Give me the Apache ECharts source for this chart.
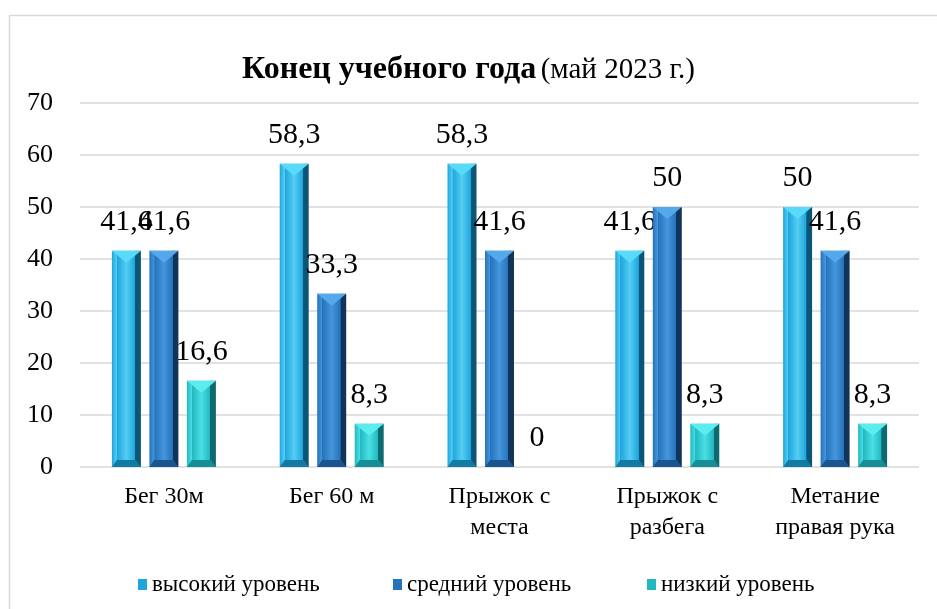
<!DOCTYPE html>
<html><head><meta charset="utf-8">
<script src="https://cdn.jsdelivr.net/npm/echarts@6/dist/echarts.min.js"></script>
<style>html,body{margin:0;padding:0;background:#fff}#c{width:937px;height:609px}</style>
</head><body><div id="c"></div>
<script>
var categories = ['Бег 30м', 'Бег 60 м', 'Прыжок с\nместа', 'Прыжок с\nразбега', 'Метание\nправая рука'];
var seriesNames = ['высокий уровень', 'средний уровень', 'низкий уровень'];
var highLevel = [41.6, 58.3, 58.3, 41.6, 50];
var midLevel = [41.6, 33.3, 41.6, 50, 41.6];
var lowLevel = [16.6, 8.3, 0, 8.3, 8.3];
var yTicks = {min: 0, max: 70, interval: 10};

var FONT = 'Liberation Serif';
var CFONT = 'serif';
var palettes = [
  {main: '#1ea5dd', light: '#55cdf3', dark: '#0b5676', top: '#58dbf9', bottom: '#137aa3'},
  {main: '#2672bb', light: '#4596dc', dark: '#11345a', top: '#55a8ea', bottom: '#1a5590'},
  {main: '#22b8c1', light: '#4adfe3', dark: '#0d6a70', top: '#5cecef', bottom: '#178e95'}
];

function makeRender(si) {
  var p = palettes[si];
  return function (params, api) {
    var cat = api.value(0), val = api.value(1);
    var base = api.coord([cat, 0]);
    var top = api.coord([cat, val]);
    var bw = 29, gap = 8.5;
    var groupW = 3 * bw + 2 * gap;
    var x = base[0] - groupW / 2 + si * (bw + gap);
    var h = base[1] - top[1];
    var children = [];
    if (h > 0.5) {
      var bt = Math.min(12, h / 2), bb = Math.min(7, h / 2), sd = 5;
      children.push({
        type: 'rect', shape: {x: x, y: top[1], width: bw, height: h},
        style: {fill: new echarts.graphic.LinearGradient(0, 0, 1, 0, [
          {offset: 0, color: p.main}, {offset: 0.17, color: p.light}, {offset: 0.18, color: p.main},
          {offset: 0.5, color: p.light}, {offset: 0.8, color: p.main}, {offset: 0.81, color: p.dark},
          {offset: 1, color: p.dark}])}
      });
      children.push({
        type: 'polygon', shape: {points: [[x, top[1]], [x + bw, top[1]], [x + bw / 2, top[1] + bt]]},
        style: {fill: p.top}
      });
      children.push({
        type: 'polygon', shape: {points: [[x, base[1]], [x + bw, base[1]], [x + bw - sd, base[1] - bb], [x + sd, base[1] - bb]]},
        style: {fill: p.bottom}
      });
    }
    children.push({
      type: 'text',
      style: {
        text: String(val).replace('.', ','), x: x + bw / 2, y: top[1] - 14,
        align: 'center', verticalAlign: 'bottom', fill: '#000',
        font: '30px ' + FONT
      }
    });
    return {type: 'group', children: children};
  };
}

var seriesData = [highLevel, midLevel, lowLevel];
var series = seriesData.map(function (arr, si) {
  return {
    type: 'custom', name: seriesNames[si],
    renderItem: makeRender(si),
    itemStyle: {color: palettes[si].main},
    encode: {x: 0, y: 1},
    data: arr.map(function (v, i) { return [i, v]; }),
    z: 3
  };
});

var legendLefts = [133, 388, 642];
var chart = echarts.init(document.getElementById('c'));
chart.setOption({
  animation: false,
  textStyle: {fontFamily: CFONT},
  graphic: [{
    type: 'rect', left: 7, top: 13, shape: {width: 940, height: 610},
    style: {fill: 'none', stroke: '#d9d9d9', lineWidth: 1.5}, z: 0
  }],
  title: {
    text: '{b|Конец учебного года} {n|(май 2023 г.)}',
    left: 'center', top: 49,
    textStyle: {
      fontWeight: 'normal', fontFamily: CFONT,
      rich: {
        b: {fontFamily: CFONT, fontWeight: 'bold', fontSize: 32, color: '#000'},
        n: {fontFamily: CFONT, fontWeight: 'normal', fontSize: 29, color: '#000'}
      }
    }
  },
  legend: seriesNames.map(function (n, i) {
    return {
      data: [n], left: legendLefts[i], top: 568, itemWidth: 9, itemHeight: 11, itemGap: 3,
      icon: 'rect',
      textStyle: {fontFamily: CFONT, fontSize: 23, color: '#000'}
    };
  }),
  grid: {left: 80, right: 18, top: 103, bottom: 142},
  xAxis: {
    type: 'category', data: categories,
    axisLine: {show: false}, axisTick: {show: false},
    axisLabel: {fontFamily: CFONT, fontSize: 24, color: '#000', lineHeight: 31, margin: 14}
  },
  yAxis: {
    type: 'value', min: yTicks.min, max: yTicks.max, interval: yTicks.interval,
    axisLine: {show: false}, axisTick: {show: false},
    axisLabel: {fontFamily: CFONT, fontSize: 26, color: '#000', margin: 27},
    splitLine: {lineStyle: {color: '#d9d9d9', width: 1.5}}
  },
  series: series
});
</script>
</body></html>
